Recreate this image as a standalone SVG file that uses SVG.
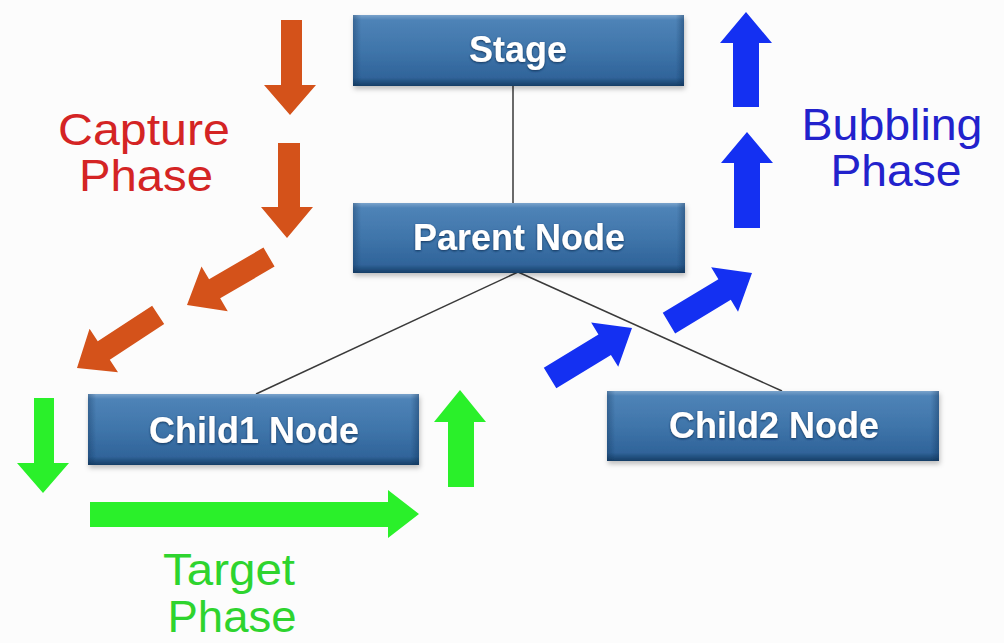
<svg xmlns="http://www.w3.org/2000/svg" width="1004" height="643" viewBox="0 0 1004 643">
  <defs>
    <linearGradient id="boxV" x1="0" y1="0" x2="0" y2="1">
      <stop offset="0" stop-color="#7aa3cb"/>
      <stop offset="0.07" stop-color="#4e83b7"/>
      <stop offset="0.5" stop-color="#3f75aa"/>
      <stop offset="0.88" stop-color="#30649a"/>
      <stop offset="1" stop-color="#163e66"/>
    </linearGradient>
    <linearGradient id="boxH" x1="0" y1="0" x2="1" y2="0">
      <stop offset="0" stop-color="#0d2f55" stop-opacity="0.35"/>
      <stop offset="0.025" stop-color="#0d2f55" stop-opacity="0"/>
      <stop offset="0.975" stop-color="#0d2f55" stop-opacity="0"/>
      <stop offset="1" stop-color="#0d2f55" stop-opacity="0.4"/>
    </linearGradient>
    <filter id="shadow" x="-10%" y="-20%" width="120%" height="150%">
      <feDropShadow dx="1" dy="3" stdDeviation="2.5" flood-color="#000" flood-opacity="0.25"/>
    </filter>
    <filter id="glow" x="-10%" y="-30%" width="120%" height="160%">
      <feDropShadow dx="0" dy="1" stdDeviation="1.2" flood-color="#0f2d52" flood-opacity="0.9"/>
    </filter>
  </defs>
  <style>
    .box { fill: url(#boxV); }
    .edge { fill: url(#boxH); }
    .lbl { font-family: "Liberation Sans", Arial, sans-serif; font-weight: bold; font-size: 36px; fill: #ffffff; text-anchor: middle; }
    .phase { font-family: "Liberation Sans", Arial, sans-serif; font-size: 44px; text-anchor: middle; }
    .cap { fill: #d42424; }
    .bub { fill: #2222cc; }
    .tgt { fill: #2ed42e; }
    .orange { fill: #d4521a; }
    .blue { fill: #1430f2; }
    .green { fill: #2af02a; }
    .conn { stroke: #3a3a3a; stroke-width: 1.5; fill: none; }
  </style>

  <rect x="0" y="0" width="1004" height="643" fill="#fcfcfc"/>

  <g id="connectors">
    <line class="conn" x1="513" y1="86" x2="513" y2="203"/>
    <line class="conn" x1="518" y1="272" x2="256" y2="394"/>
    <line class="conn" x1="518" y1="272" x2="782" y2="391"/>
  </g>

  <g id="stage" filter="url(#shadow)">
    <rect class="box" x="353" y="15" width="331" height="71"/>
    <rect class="edge" x="353" y="15" width="331" height="71"/>
    <text class="lbl" x="518" y="62" filter="url(#glow)">Stage</text>
  </g>
  <g id="parent" filter="url(#shadow)">
    <rect class="box" x="353" y="203" width="332" height="70"/>
    <rect class="edge" x="353" y="203" width="332" height="70"/>
    <text class="lbl" x="519" y="250" filter="url(#glow)">Parent Node</text>
  </g>
  <g id="child1" filter="url(#shadow)">
    <rect class="box" x="88" y="394" width="331" height="71"/>
    <rect class="edge" x="88" y="394" width="331" height="71"/>
    <text class="lbl" x="254" y="443" filter="url(#glow)">Child1 Node</text>
  </g>
  <g id="child2" filter="url(#shadow)">
    <rect class="box" x="607" y="391" width="332" height="70"/>
    <rect class="edge" x="607" y="391" width="332" height="70"/>
    <text class="lbl" x="774" y="438" filter="url(#glow)">Child2 Node</text>
  </g>

  <g id="capture-phase">
    <polygon class="orange" points="281,20 302,20 302,85 316,85 290,115 264,85 281,85"/>
    <polygon class="orange" points="278,143 300,143 300,207 313,207 287,238 261,207 278,207"/>
    <polygon class="orange" transform="translate(187,305) rotate(149.7)" points="-95,-11 -32,-11 -32,-26 0,0 -32,26 -32,11 -95,11"/>
    <polygon class="orange" transform="translate(77,368) rotate(146.8)" points="-97,-11 -32,-11 -32,-26 0,0 -32,26 -32,11 -97,11"/>
    <text class="phase cap" x="144" y="145" textLength="172" lengthAdjust="spacingAndGlyphs">Capture</text>
    <text class="phase cap" x="146" y="191" textLength="134" lengthAdjust="spacingAndGlyphs">Phase</text>
  </g>

  <g id="bubbling-phase">
    <polygon class="blue" points="733,107 759,107 759,43 772,43 746,12 720,43 733,43"/>
    <polygon class="blue" points="734,228 760,228 760,163 773,163 747,132 721,163 734,163"/>
    <polygon class="blue" transform="translate(752,273) rotate(-31.1)" points="-97,-12 -32,-12 -32,-26 0,0 -32,26 -32,12 -97,12"/>
    <polygon class="blue" transform="translate(632,328) rotate(-31.4)" points="-96,-12 -32,-12 -32,-26 0,0 -32,26 -32,12 -96,12"/>
    <text class="phase bub" x="892" y="140" textLength="181" lengthAdjust="spacingAndGlyphs">Bubbling</text>
    <text class="phase bub" x="896" y="186" textLength="131" lengthAdjust="spacingAndGlyphs">Phase</text>
  </g>

  <g id="target-phase">
    <polygon class="green" points="34,398 54,398 54,463 69,463 43,493 17,463 34,463"/>
    <polygon class="green" points="90,502 388,502 388,490 419,514 388,538 388,527 90,527"/>
    <polygon class="green" points="448,487 474,487 474,422 486,422 460,390 434,422 448,422"/>
    <text class="phase tgt" x="229" y="585" textLength="132" lengthAdjust="spacingAndGlyphs">Target</text>
    <text class="phase tgt" x="232" y="632" textLength="129" lengthAdjust="spacingAndGlyphs">Phase</text>
  </g>
</svg>
